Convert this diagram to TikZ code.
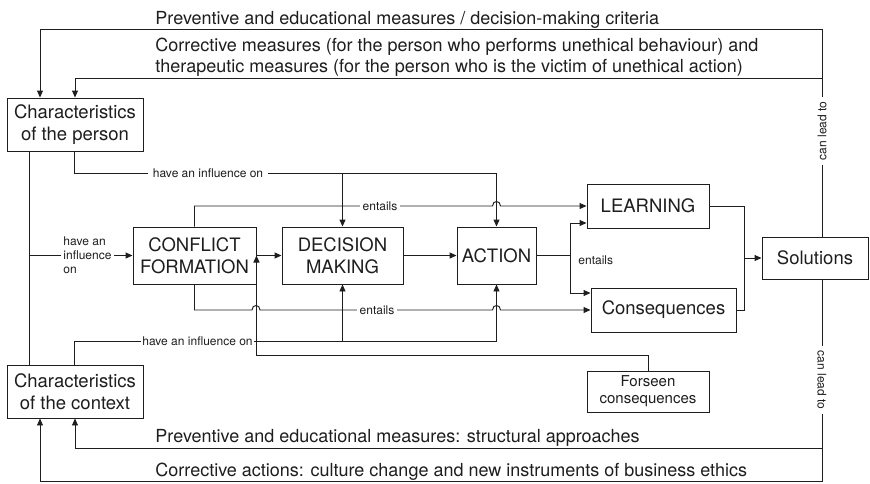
\documentclass[tikz,border=0pt]{standalone}
\usepackage{fontspec}
\setmainfont{TeX Gyre Heros}
\usetikzlibrary{arrows.meta}
\definecolor{ink}{HTML}{1E1E1E}
\begin{document}
\begin{tikzpicture}[x=1pt,y=-1pt,color=ink,line width=0.95pt,
  box/.style={draw, fill=white, align=center, inner sep=0pt,
    font=\fontsize{18.5}{21.5}\selectfont},
  lab/.style={inner sep=0pt, font=\fontsize{18}{21.5}\selectfont},
  small/.style={fill=white, inner ysep=1pt, inner xsep=3pt,
    font=\fontsize{12}{14}\selectfont},
  arr/.style={-{Triangle[length=7pt,width=6pt]}}]
\useasboundingbox (0,0) rectangle (870,483);

% ---- boxes ----
\node[box, minimum width=136, minimum height=53] (person) at (75,124.5) {Characteristics\\of the person};
\node[box, minimum width=136, minimum height=53] (context) at (75,391.5) {Characteristics\\of the context};
\node[box, minimum width=123, minimum height=57] (conf) at (194.5,255.5) {CONFLICT\\FORMATION};
\node[box, minimum width=121, minimum height=57] (dec) at (342.5,255.5) {DECISION\\MAKING};
\node[box, minimum width=79, minimum height=57] (act) at (496.5,255.5) {ACTION};
\node[box, minimum width=122, minimum height=44] (learn) at (648,206) {LEARNING};
\node[box, minimum width=145, minimum height=44] (cons) at (663.5,310) {Consequences};
\node[box, minimum width=106, minimum height=42] (sol) at (815,258) {Solutions};
\node[box, minimum width=122, minimum height=41, font=\fontsize{15}{17}\selectfont] (fore) at (648,391.5) {Forseen\\consequences};

% ---- junction points ----
\coordinate (rtop) at (822,29.5);
\coordinate (rsec) at (822,78.5);
\coordinate (rbot) at (822,448);
\coordinate (rlow) at (822,481.5);
\coordinate (lj) at (29,255.5);
\coordinate (ja) at (570,255.5);
\coordinate (jb) at (744,258);

% ---- feedback loops from the solutions ----
\draw[arr] (sol.north -| rtop) -- (rtop) -- (40,29.5) -- (person.north -| 40,0);
\draw[arr] (rsec) -- (75,78.5) -- (person.north -| 75,0);
\draw[arr] (sol.south -| rlow) -- (rlow) -- (40,481.5) -- (context.south -| 40,0);
\draw[arr] (rbot) -- (75,448) -- (context.south -| 75,0);

% ---- left trunk between the two characteristics ----
\draw (person.south -| lj) -- (context.north -| lj);
\draw[arr] (lj) -- (conf.west);

% ---- influence of the person ----
\draw[arr] (person.south -| 74,0) -- (74,173) -- (act.north |- 0,173) -- (act.north);
\draw[arr] (dec.north |- 0,173) -- (dec.north);

% ---- influence of the context ----
\draw[arr] (context.north -| 74,0) -- (74,341) -- (act.south |- 0,341) -- (act.south);
\draw[arr] (dec.south |- 0,341) -- (dec.south);

% ---- foreseen consequences ----
\draw[arr] (fore.north) -- (fore.north |- 0,355) -- (conf.east |- 0,355) -- (conf.east);

% ---- main chain ----
\draw[arr] (conf.east) -- (dec.west);
\draw[arr] (dec.east) -- (act.west);
\draw (act.east) -- (ja);
\draw[arr] (ja) |- (learn.west |- 0,223);
\draw[arr] (ja) |- (cons.west |- 0,293);

% ---- "entails" lines with hops ----
\draw[arr] (conf.north) -- (194.5,206) -- (492.5,206)
  .. controls (492.5,200) and (500.5,200) .. (500.5,206) -- (learn.west);
\draw[arr] (conf.south) -- (194.5,310) -- (252,310)
  .. controls (252,304) and (260,304) .. (260,310) -- (492.5,310)
  .. controls (492.5,304) and (500.5,304) .. (500.5,310) -- (cons.west);

% ---- towards the solutions ----
\draw (learn.east) -| (jb);
\draw (cons.east) -| (jb);
\draw[arr] (jb) -- (sol.west);

% ---- labels on the lines ----
\node[small, inner xsep=5pt] (l1) at (208,173) {have an influence on};
\node[small, inner xsep=1.5pt] (l2) at (197.5,341) {have an influence on};
\node[small, align=left, inner xsep=2.5pt] (l3) at (87.5,255) {have an\\influence\\on};
\node[small] (e1) at (380,206) {entails};
\node[small] (e2) at (377,310) {entails};
\node[small, fill=none, anchor=west, inner sep=0pt] (e3) at (578,260) {entails};
\node[small, rotate=90, inner xsep=5pt] (c1) at (822,131) {can lead to};
\node[small, rotate=-90, inner xsep=5pt] (c2) at (822,380) {can lead to};

% ---- measures ----
\node[lab, anchor=base west] (m1) at (155,24) {Preventive and educational measures / decision-making criteria};
\node[lab, anchor=base west] (m2) at (155,51) {Corrective measures (for the person who performs unethical behaviour) and};
\node[lab, anchor=base west] (m3) at (155,72) {therapeutic measures (for the person who is the victim of unethical action)};
\node[lab, anchor=base west] (m4) at (155,442) {Preventive and educational measures: structural approaches};
\node[lab, anchor=base west] (m5) at (155,476) {Corrective actions: culture change and new instruments of business ethics};
\end{tikzpicture}
\end{document}
